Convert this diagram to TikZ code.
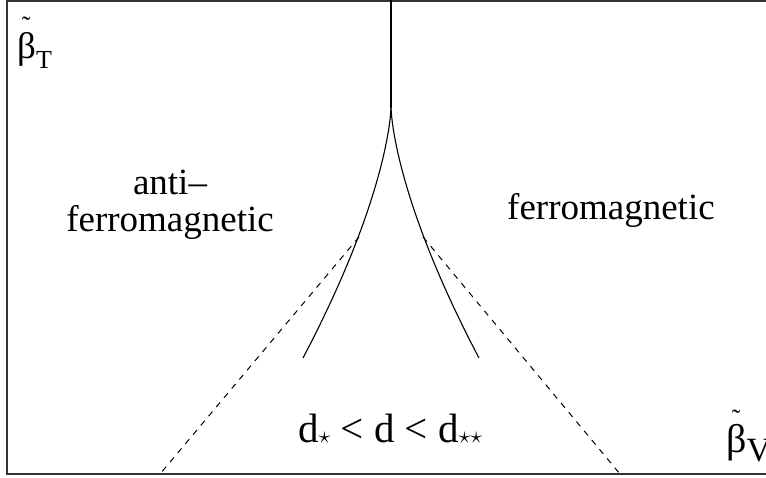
\RequirePackage{fix-cm}
\documentclass[tikz,border=0pt]{standalone}
\usepackage{fontspec}
\setmainfont{Liberation Serif}
\usetikzlibrary{positioning,calc}
\tikzset{
  lbl/.style={font=\fontsize{37}{40}\selectfont, inner sep=0pt},
  bnd/.style={line width=1.1pt},
  spin/.style={line width=1pt, dash pattern=on 6pt off 6pt},
  frm/.style={line width=1.6pt, draw=black!80}
}
\newcommand{\sstar}{\raisebox{-1pt}{\fontsize{24}{24}\selectfont$\star$}}
\newcommand{\tbeta}[2]{\rlap{\makebox[#1][c]{\raisebox{#2}{\fontsize{26}{26}\selectfont ˜}}}β}

\begin{document}
\begin{tikzpicture}[x=1pt,y=-1pt]
  \useasboundingbox (0,0) rectangle (766,478);
  \draw[frm] (770,0.8) -- (7,0.8) -- (7,474) -- (770,474);

  % phase boundaries
  \coordinate (top)  at (391,0);
  \coordinate (apex) at (391,107);
  \coordinate (lmid) at (359,237);
  \coordinate (rmid) at (423,237);
  \coordinate (lbot) at (160,474);
  \coordinate (rbot) at (620,474);
  \draw[bnd] (top) -- (apex);
  \draw[bnd] plot[domain=0:1, samples=50] ({391-88*\x*sqrt(\x)},{107+251*\x});
  \draw[bnd] plot[domain=0:1, samples=50] ({391+88*\x*sqrt(\x)},{107+251*\x});
  \draw[spin] (lmid) -- (lbot);
  \draw[spin] (rmid) -- (rbot);

  % axes
  \node[lbl, anchor=base west] (bT) at (17,59) {\tbeta{18pt}{24pt}\raisebox{-10pt}{\fontsize{26}{26}\selectfont T}};
  \node[lbl, anchor=base west, font=\fontsize{40}{40}\selectfont] (bV) at (726,452) {\tbeta{20pt}{25pt}\raisebox{-9pt}{\fontsize{34}{34}\selectfont V}};

  % phases
  \node[lbl, anchor=base] (anti)  at (170,195) {anti–};
  \node[lbl, anchor=base] (afm)   at (170,232) {ferromagnetic};
  \node[lbl, anchor=base west] (fm) at (507,220) {ferromagnetic};
  \node[lbl, anchor=base west, font=\fontsize{41}{41}\selectfont] (rng) at (298,442) {d\sstar{} < d < d\sstar\sstar};
\end{tikzpicture}
\end{document}
